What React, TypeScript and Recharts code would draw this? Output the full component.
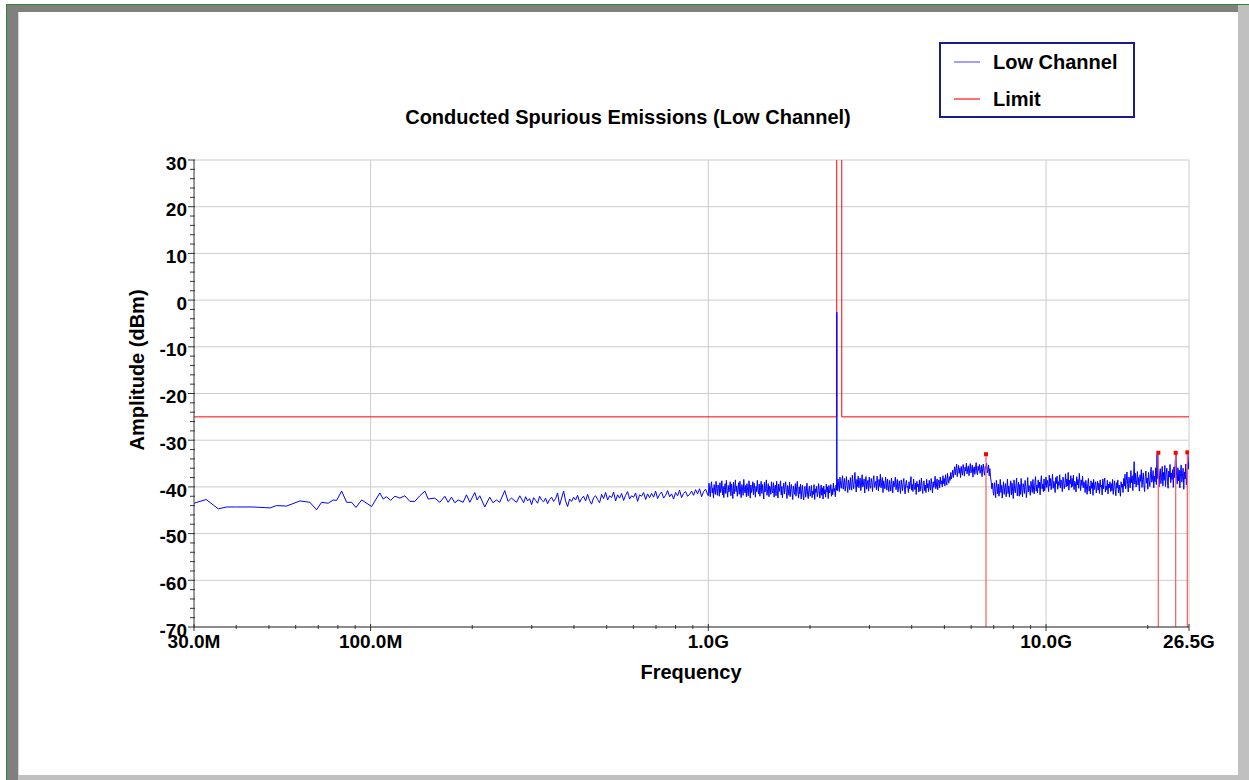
import React from "react";
import { LineChart, Line, XAxis, YAxis, CartesianGrid } from "recharts";

// ---------- data ----------
// sparse start of the sweep (MHz, dBm)
const lowSparseFreqMHz = [30.0,32.6,35.4,37.5,40.1,44.9,50.4,52.7,56.4,61.8,66.1,69.2,71.6,74.9,77.5,79.3,82.1,84.9,87.9,90.5,94.1,100.7,106.5,109.0,111.5,114.6,118.0,122.1,126.3,130.7,135.2,139.9,144.8,148.1,154.9,160.3,165.9,169.7,173.6,177.6,181.6,187.9,192.3,196.7,203.5,206.7,210.5,217.8,225.3,230.4,235.9,241.2,249.6,255.3,261.2,270.3,276.5];
const lowSparseDbm = [-43.5,-42.7,-44.7,-44.3,-44.3,-44.3,-44.5,-44.0,-44.1,-43.0,-43.3,-44.9,-43.3,-43.5,-42.8,-42.9,-40.9,-43.3,-43.3,-44.4,-42.8,-44.2,-41.3,-42.6,-42.1,-42.9,-42.0,-42.4,-41.9,-43.1,-43.1,-41.9,-40.9,-42.6,-42.4,-43.3,-42.0,-43.3,-42.2,-43.4,-42.8,-43.3,-41.7,-43.3,-41.2,-42.8,-41.9,-44.3,-42.2,-43.4,-42.8,-43.3,-40.8,-43.1,-42.4,-43.3,-41.9];

// sweep segment 280 MHz - 995 MHz
const segBStartMHz = 280;
const segBStopMHz = 995;
const segBDbm = [
  -42.6,-43.4,-42.1,-43.0,-42.5,-43.8,-42.3,-42.9,-43.5,-42.0,-42.8,-43.2,-42.4,-43.6,-42.7,-42.2,-43.1,-42.5,-41.3,-43.9,
  -42.4,-40.9,-43.0,-44.2,-42.6,-43.1,-42.2,-42.8,-41.8,-43.3,-42.5,-42.0,-43.0,-41.6,-42.9,-43.7,-42.3,-41.9,-42.7,-43.4,
  -41.6,-42.5,-41.2,-42.8,-41.9,-42.3,-41.1,-43.0,-41.7,-42.4,-41.4,-42.9,-41.8,-41.0,-42.6,-41.9,-42.2,-41.3,-43.1,-41.7,-42.0,-41.2,-42.7,-41.5,-42.3,
  -41.4,-42.2,-40.9,-42.5,-41.6,-41.1,-42.4,-41.8,-40.8,-42.1,-41.5,-42.6,-41.2,-41.9,-40.7,-42.3,-41.4,-41.0,-42.0,-41.6,-40.9,
  -41.8,-40.6,-41.5,-40.4,-42.1,-41.0,-40.5,-41.6,
];

// sweep segment 1 GHz - 2.398 GHz
const segCStartMHz = 1000;
const segCStopMHz = 2398;
const segCDbm = [
  -41.9,-39.2,-40.7,-42.1,-39.8,-38.9,-41.3,-40.2,-42.4,-39.5,-40.9,-41.6,-38.8,-40.3,-41.8,-39.6,-40.0,-42.0,-39.1,-41.2,
  -40.5,-38.7,-41.7,-39.9,-42.3,-40.6,-39.3,-41.4,-38.6,-40.8,-42.2,-39.7,-41.1,-40.1,-38.9,-41.9,-39.4,-40.7,-42.5,-39.0,
  -41.5,-40.3,-38.5,-41.0,-39.8,-42.0,-40.4,-39.1,-41.6,-38.8,-40.9,-42.3,-39.5,-40.2,-41.8,-38.4,-40.6,-41.3,-39.7,-42.1,
  -39.3,-40.8,-41.9,-38.7,-40.0,-42.4,-39.6,-41.2,-40.5,-38.9,-41.7,-39.2,-40.4,-42.2,-39.9,-41.0,-38.6,-40.7,-41.5,-39.4,
  -42.0,-40.1,-38.8,-41.4,-39.5,-40.9,-42.6,-39.0,-41.1,-40.3,-38.5,-41.8,-40.6,-39.3,-42.1,-39.8,-40.2,-41.6,-38.9,-40.8,
  -41.3,-39.1,-42.2,-40.4,-39.6,-41.9,-38.8,-40.7,-42.4,-39.4,-41.0,-40.0,-38.7,-41.7,-39.9,-42.3,-40.5,-39.2,-41.5,-40.1,
  -38.9,-41.2,-42.5,-39.7,-40.6,-41.8,-39.0,-42.1,-40.3,-39.5,-41.4,-42.7,-39.8,-40.9,-41.6,-39.3,-42.0,-40.2,-38.8,-41.1,
  -42.4,-40.0,-41.5,-39.4,-42.6,-40.8,-39.6,-41.9,-42.8,-40.3,-39.9,-42.2,-41.0,-39.2,-41.7,-42.5,-40.5,-39.8,-42.0,-41.3,
  -39.7,-42.3,-40.9,-41.6,-39.5,-42.7,-40.4,-41.2,-39.9,-42.1,-41.4,-39.3,-40.7,-42.4,-41.0,-39.6,-41.8,-40.2,-42.6,-39.8,
  -41.5,-40.6,-42.2,-39.4,-41.1,-40.0,-42.5,-39.7,-41.3,-40.8,-39.5,-42.0,-40.4,-41.7,-39.2,-41.0,-40.3,-42.1,-39.6,-40.7,
];

// carrier (low channel) spike
const spikeFreqMHz = [2400.0, 2401.0, 2401.5, 2402.0, 2403.0, 2405.0];
const spikeDbm = [-40.4, -21.9, -2.6, -21.9, -40.6, -39.2];

// sweep segment 2.41 GHz - 6.97 GHz
const segDStartMHz = 2410;
const segDStopMHz = 6970;
const segDDbm = [
  -40.8,-38.3,-39.6,-41.0,-37.9,-39.4,-40.3,-38.6,-37.6,-40.5,-39.1,-38.2,-40.9,-39.7,-37.8,-39.9,-41.2,-38.5,-39.3,-40.6,
  -38.0,-39.8,-40.7,-37.5,-39.2,-40.4,-38.7,-36.9,-39.5,-41.1,-38.4,-39.9,-37.7,-40.2,-39.0,-38.1,-40.8,-39.4,-37.4,-40.0,
  -39.6,-38.3,-41.3,-38.9,-37.8,-40.5,-39.2,-38.6,-40.9,-37.9,-39.7,-40.3,-38.2,-39.0,-41.0,-38.5,-37.6,-40.1,-39.5,-38.8,
  -40.6,-37.7,-39.3,-40.8,-38.4,-39.9,-37.3,-40.2,-39.1,-38.0,-41.2,-38.7,-39.6,-40.4,-37.9,-39.2,-40.7,-38.3,-39.8,-41.0,
  -38.6,-39.7,-40.9,-38.1,-39.4,-41.3,-38.8,-40.0,-39.2,-37.9,-40.6,-39.5,-38.4,-41.1,-39.9,-38.7,-40.3,-41.4,-38.5,-39.6,
  -40.8,-39.0,-38.2,-40.5,-41.5,-39.3,-38.6,-40.1,-39.8,-41.2,-38.9,-40.4,-39.1,-37.8,-40.7,-39.5,-41.0,-38.3,-39.9,-40.6,
  -39.2,-41.6,-38.8,-40.0,-39.4,-41.1,-38.5,-40.9,-39.7,-38.1,-40.3,-41.4,-39.0,-38.7,-40.8,-39.6,-41.2,-38.4,-40.2,-39.3,
  -41.0,-38.6,-39.9,-40.7,-38.2,-39.5,-41.3,-38.9,-40.1,-39.2,-37.7,-40.4,-39.8,-38.3,-40.6,-39.0,-38.5,-40.2,-37.9,-39.4,
  -38.7,-40.0,-37.6,-39.3,-38.2,-39.8,-37.4,-38.9,-39.6,-37.1,-38.5,-39.2,-37.8,-38.6,-36.9,-38.3,-37.5,-36.4,-38.0,-36.8,
  -35.7,-37.4,-36.2,-35.1,-37.8,-36.5,-35.4,-37.1,-36.0,-38.0,-35.6,-36.8,-37.5,-35.2,-36.3,-37.7,-35.8,-36.6,-34.9,-37.2,
  -36.1,-35.5,-37.6,-36.4,-35.0,-37.0,-36.7,-35.3,-37.9,-36.2,-35.7,-37.3,-36.0,-34.8,-36.9,-37.4,-35.6,-36.5,-35.2,-37.1,
  -36.3,-35.4,-37.8,-36.0,-35.1,-36.8,-37.5,-35.6,-36.2,-34.9,-37.0,-36.5,-35.3,-37.6,-36.1,-37.9,-38.8,-40.4,-39.2,-41.0,
];

// sweep segment 7 GHz - 26.5 GHz
const segEStartMHz = 7000;
const segEStopMHz = 26500;
const segEDbm = [
  -41.8,-39.1,-40.6,-42.3,-38.6,-40.0,-41.5,-39.4,-42.0,-40.8,-38.4,-41.2,-39.7,-42.4,-40.3,-38.9,-41.6,-40.1,-39.3,-42.1,
  -40.5,-38.3,-41.4,-39.8,-42.2,-40.0,-38.7,-41.7,-39.2,-40.9,-42.5,-38.5,-40.4,-41.3,-39.6,-38.1,-41.9,-40.2,-39.0,-42.0,
  -39.5,-41.6,-38.2,-40.7,-42.1,-39.3,-40.1,-41.4,-38.6,-39.9,-42.3,-40.5,-38.0,-41.1,-39.7,-40.4,-41.8,-38.8,-40.0,-41.2,
  -38.4,-40.6,-41.5,-39.1,-37.8,-40.9,-39.6,-41.3,-38.5,-40.2,-39.0,-41.7,-38.9,-37.6,-40.4,-39.4,-41.0,-38.3,-40.8,-39.7,
  -37.9,-40.1,-38.6,-39.5,-41.0,-37.5,-39.8,-38.2,-40.6,-39.0,-37.3,-40.3,-38.8,-39.6,-41.2,-38.0,-39.3,-37.7,-40.5,-38.9,
  -39.7,-37.4,-40.2,-38.5,-39.1,-41.0,-37.9,-38.7,-40.4,-39.3,-37.2,-40.0,-38.3,-39.8,-36.9,-40.7,-38.6,-39.4,-37.6,-40.1,
  -38.2,-39.9,-37.5,-40.6,-38.8,-39.2,-41.1,-37.8,-39.6,-38.4,-40.3,-37.1,-39.0,-40.8,-38.5,-39.7,-37.7,-40.2,-38.9,-39.4,
  -41.2,-38.6,-40.0,-41.6,-39.3,-38.2,-40.9,-39.8,-41.5,-38.7,-40.3,-39.1,-41.8,-38.4,-40.6,-39.5,-38.9,-41.3,-40.1,-38.8,
  -40.7,-39.2,-41.4,-38.5,-40.0,-39.6,-41.7,-38.3,-40.4,-39.0,-38.1,-41.1,-39.8,-40.6,-38.6,-41.5,-39.4,-40.2,-38.9,-41.0,
  -39.3,-40.8,-38.4,-41.6,-39.9,-38.7,-40.5,-41.9,-39.1,-40.2,-38.5,-41.3,-39.6,-40.7,-42.0,-38.9,-40.1,-39.4,-41.2,-38.2,
  -39.8,-37.3,-40.4,-38.6,-36.8,-39.5,-41.1,-37.9,-38.7,-40.2,-36.5,-39.1,-37.6,-40.8,-38.3,-34.6,-39.4,-37.1,-40.0,-38.5,
  -36.7,-39.6,-38.0,-40.9,-37.4,-38.8,-36.3,-40.1,-38.4,-37.0,-39.7,-41.0,-37.8,-36.6,-39.2,-38.1,-40.5,-36.9,-38.6,-39.9,
  -37.2,-35.8,-39.0,-38.3,-36.5,-40.2,-37.7,-38.9,-35.9,-39.5,-33.1,-38.2,-36.4,-40.0,-37.5,-36.1,-39.3,-38.0,-35.6,-39.8,
  -36.9,-38.6,-35.4,-39.9,-37.3,-36.0,-38.8,-40.3,-36.6,-37.9,-35.2,-39.1,-37.0,-38.4,-36.3,-40.1,-35.7,-38.0,-34.4,-33.0,
  -37.6,-39.4,-35.9,-38.7,-36.4,-40.2,-37.1,-35.3,-39.0,-37.8,-36.0,-40.5,-36.8,-38.3,-35.1,-39.6,-37.4,-34.8,-36.2,-32.9,
];

// limit line (MHz, dBm); in-band section is off scale
const limitFreqMHz = [30, 2400, 2400, 2483.5, 2483.5, 26500];
const limitDbm = [-25, -25, 100, 100, -25, -25];

// peak markers of the limit trace
const markerFreqMHz = [6640, 21500, 24200, 26200];
const markerDbm = [-33.0, -32.7, -32.7, -32.6];
const markerBaseDbm = -70;

// axes
const yTicks = [-70,-68,-66,-64,-62,-60,-58,-56,-54,-52,-50,-48,-46,-44,-42,-40,-38,-36,-34,-32,-30,-28,-26,-24,-22,-20,-18,-16,-14,-12,-10,-8,-6,-4,-2,0,2,4,6,8,10,12,14,16,18,20,22,24,26,28,30];
const yMajorTicks = [-70,-60,-50,-40,-30,-20,-10,0,10,20,30];
const xTicksHz = [30e6,40e6,50e6,60e6,70e6,80e6,90e6,100e6,200e6,300e6,400e6,500e6,600e6,700e6,800e6,900e6,1e9,2e9,3e9,4e9,5e9,6e9,7e9,8e9,9e9,10e9,20e9,26.5e9];
const xMajorHz = [30e6, 100e6, 1e9, 10e9, 26.5e9];
const xMajorLabels = ["30.0M", "100.0M", "1.0G", "10.0G", "26.5G"];
const xGridHz = [100e6, 1e9, 10e9, 26.5e9];

const seriesNames = ["Low Channel", "Limit"];
const seriesColors = ["#0000ff", "#ff0000"];
const legendColors = ["#7f7fff", "#ff4040"];
const markerStemColor = "#ff5a5a";

// ---------- build tables ----------
const toPts = (fMHz: number[], v: number[]) => fMHz.map((f, i) => ({ f: f * 1e6, v: v[i] }));
const sweep = (a: number, b: number, vals: number[]) =>
  vals.map((v, i) => ({ f: a * 1e6 * Math.pow(b / a, i / (vals.length - 1)), v }));

const lowData = [
  ...toPts(lowSparseFreqMHz, lowSparseDbm),
  ...sweep(segBStartMHz, segBStopMHz, segBDbm),
  ...sweep(segCStartMHz, segCStopMHz, segCDbm),
  ...toPts(spikeFreqMHz, spikeDbm),
  ...sweep(segDStartMHz, segDStopMHz, segDDbm),
  ...sweep(segEStartMHz, segEStopMHz, segEDbm),
];
const limitData = toPts(limitFreqMHz, limitDbm);
// one trace, broken by nulls between the marker stems
const markerData: { f: number; v: number | null; top?: boolean }[] = [];
markerFreqMHz.forEach((f, i) => {
  markerData.push({ f: f * 1e6, v: markerBaseDbm });
  markerData.push({ f: f * 1e6, v: markerDbm[i], top: true });
  markerData.push({ f: f * 1e6 + 1, v: null });
});

const FONT = "Arial, 'Liberation Sans', sans-serif";

const YTick = (props: any) => {
  const { x, y, payload } = props;
  const v = payload.value;
  const major = yMajorTicks.indexOf(v) >= 0;
  return (
    <g>
      <line x1={x - (major ? 6 : 4)} x2={x + 1} y1={y} y2={y} stroke="#333" strokeWidth={1} />
      {major && (
        <text x={x - 7} y={y + 3} dy="0.35em" textAnchor="end" fontSize={19} fontWeight="bold" fontFamily={FONT} fill="#000">
          {v}
        </text>
      )}
    </g>
  );
};

const XTick = (props: any) => {
  const { x, y, payload } = props;
  const idx = xMajorHz.indexOf(payload.value);
  const major = idx >= 0;
  return (
    <g>
      <line x1={x} x2={x} y1={y - (major ? 3 : 2)} y2={y + (major ? 4 : 2)} stroke="#333" strokeWidth={1} />
      {major && (
        <text x={x} y={y + 14} dy="0.35em" textAnchor="middle" fontSize={19} fontWeight="bold" fontFamily={FONT} fill="#000">
          {xMajorLabels[idx]}
        </text>
      )}
    </g>
  );
};

const MarkerDot = (props: any) => {
  const { cx, cy, payload, index } = props;
  if (!payload || !payload.top || cx == null || cy == null) return <g key={"m" + index} />;
  return <rect key={"m" + index} x={cx - 2} y={cy - 2} width={4} height={4} fill="#ff0000" />;
};

export default function App() {
  return (
    <div style={{ position: "absolute", left: 0, top: 0, width: 1249, height: 780, background: "#fff", overflow: "hidden" }}>
      {/* frame */}
      <div style={{ position: "absolute", left: 6, top: 4, width: 1243, height: 1, background: "#2a8a2a" }} />
      <div style={{ position: "absolute", left: 6, top: 4, width: 1, height: 776, background: "#2a8a2a" }} />
      <div style={{ position: "absolute", left: 7, top: 5, width: 1231, height: 7, background: "#808080" }} />
      <div style={{ position: "absolute", left: 7, top: 5, width: 11, height: 775, background: "#808080" }} />
      <div style={{ position: "absolute", left: 18, top: 12, width: 1, height: 763, background: "#d4d4d4" }} />
      <div style={{ position: "absolute", left: 1238, top: 5, width: 11, height: 775, background: "#c0c0c0" }} />
      <div style={{ position: "absolute", left: 18, top: 775, width: 1231, height: 5, background: "#c0c0c0" }} />

      <div style={{ position: "absolute", left: 0, top: 0 }}>
        <LineChart width={1249} height={780} margin={{ top: 160, right: 60, bottom: 113, left: 0 }}>
          <CartesianGrid stroke="#cccccc" horizontalValues={yMajorTicks} verticalValues={xGridHz} />
          <XAxis
            dataKey="f"
            type="number"
            scale="log"
            domain={[30e6, 26.5e9]}
            allowDataOverflow
            ticks={xTicksHz}
            interval={0}
            tickSize={0}
            tickMargin={0}
            tick={<XTick />}
            axisLine={{ stroke: "#333" }}
            height={40}
          />
          <YAxis
            dataKey="v"
            type="number"
            domain={[-70, 30]}
            allowDataOverflow
            ticks={yTicks}
            interval={0}
            tickSize={0}
            tickMargin={0}
            tick={<YTick />}
            axisLine={{ stroke: "#333" }}
            width={194}
          />
          <Line data={limitData} dataKey="v" name={seriesNames[1]} stroke={seriesColors[1]} strokeWidth={1} dot={false} isAnimationActive={false} type="linear" />
          <Line data={lowData} dataKey="v" name={seriesNames[0]} stroke={seriesColors[0]} strokeWidth={1} dot={false} isAnimationActive={false} type="linear" />
          <Line data={markerData} dataKey="v" name="Markers" stroke={markerStemColor} strokeWidth={1.2} connectNulls={false} dot={<MarkerDot />} isAnimationActive={false} type="linear" legendType="none" />
        </LineChart>
      </div>

      {/* titles and legend */}
      <svg width={1249} height={780} style={{ position: "absolute", left: 0, top: 0, pointerEvents: "none" }}>
        <text x={628} y={117} dy="0.35em" textAnchor="middle" fontSize={20} fontWeight="bold" fontFamily={FONT} fill="#000">
          Conducted Spurious Emissions (Low Channel)
        </text>
        <text x={691} y={672} dy="0.35em" textAnchor="middle" fontSize={20} fontWeight="bold" fontFamily={FONT} fill="#000">
          Frequency
        </text>
        <text x={0} y={0} dy="0.35em" textAnchor="middle" fontSize={20} fontWeight="bold" fontFamily={FONT} fill="#000" transform="translate(137,370) rotate(-90)">
          Amplitude (dBm)
        </text>
        <rect x={940} y={43} width={194} height={74} fill="#fff" stroke="#1c1c8c" strokeWidth={2} />
        {seriesNames.map((n, i) => (
          <g key={n}>
            <line x1={954} x2={980} y1={62 + i * 37} y2={62 + i * 37} stroke={legendColors[i]} strokeWidth={1.5} />
            <text x={993} y={62 + i * 37} dy="0.35em" fontSize={20} fontWeight="bold" fontFamily={FONT} fill="#000">
              {n}
            </text>
          </g>
        ))}
      </svg>
    </div>
  );
}
